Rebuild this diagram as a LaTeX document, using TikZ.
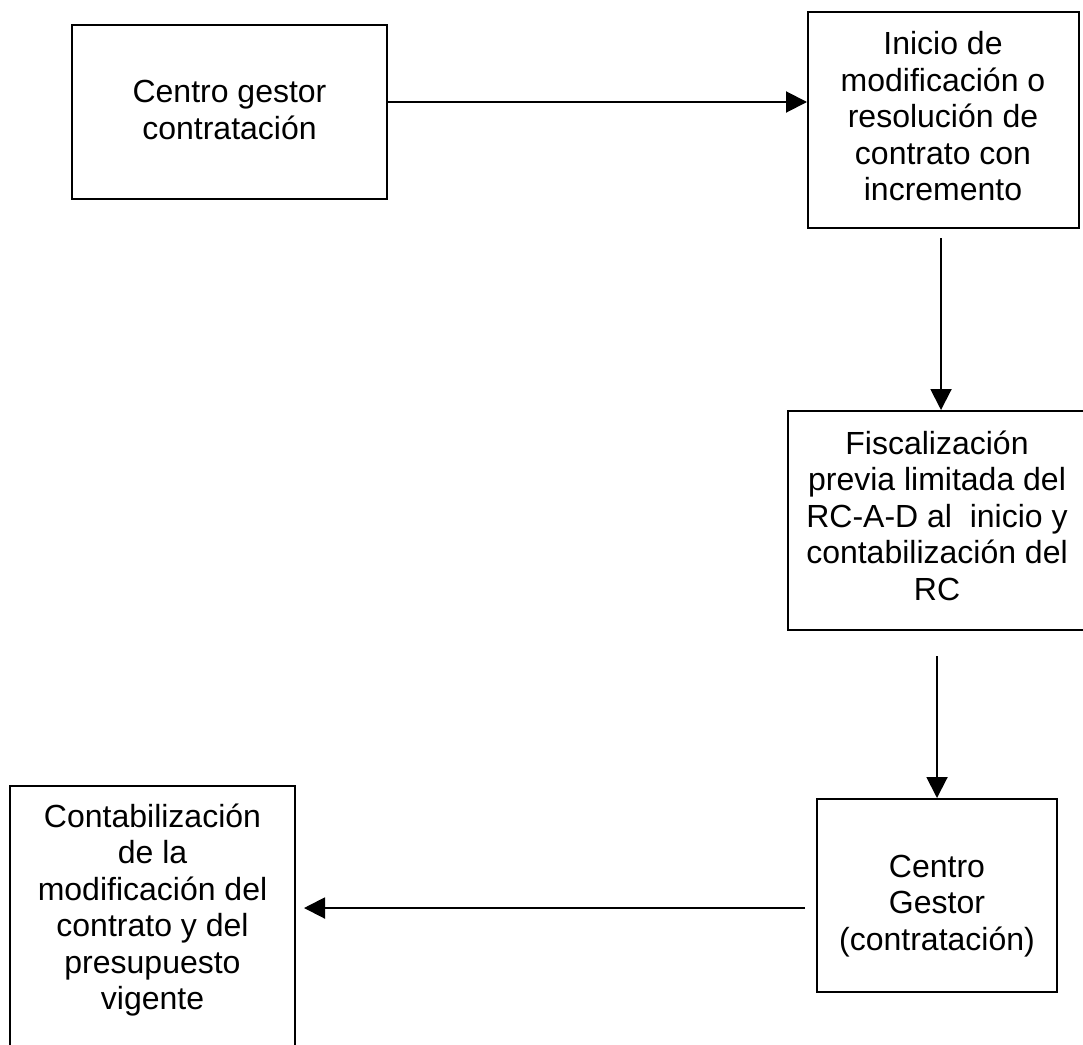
\documentclass[tikz,border=0pt]{standalone}
\usepackage{fontspec}
\setmainfont{Liberation Sans}
\usetikzlibrary{arrows.meta}
\begin{document}
\begin{tikzpicture}[x=1pt,y=1pt,
  box/.style={draw=black, line width=2pt, inner sep=0pt},
  txt/.style={align=center, inner sep=0pt, font=\fontsize{32}{36.5}\selectfont},
  arr/.style={line width=2pt, -{Triangle[length=21pt,width=21pt]}}]
\useasboundingbox (0,0) rectangle (1083,-1044);
\node[box, minimum width=315pt, minimum height=174pt] (b1) at (229.5,-112) {};
\node[box, minimum width=271pt, minimum height=216pt] (b2) at (943.5,-120) {};
\node[box, minimum width=298pt, minimum height=219pt] (b3) at (937,-520.5) {};
\node[box, minimum width=240pt, minimum height=193pt] (b4) at (937,-895.5) {};
\node[box, minimum width=285pt, minimum height=260pt] (b5) at (152.5,-916) {};
\node[txt] (t1) at (229.5,-110) {Centro gestor\\contratación};
\node[txt] (t2) at (943,-116.5) {Inicio de\\modificación o\\resolución de\\contrato con\\incremento};
\node[txt] (t3) at (937,-515.5) {Fiscalización\\previa limitada del\\RC-A-D al~ inicio y\\contabilización del\\RC};
\node[txt] (t4) at (937,-906) {Centro\\Gestor\\(contratación)};
\node[txt] (t5) at (152.5,-910) {Contabilización\\de la\\modificación del\\contrato y del\\presupuesto\\vigente};
\draw[arr] ([yshift=10pt]b1.east) -- ([yshift=18pt]b2.west);
\draw[arr] ([xshift=-2.5pt,yshift=-9pt]b2.south) -- ([xshift=4pt]b3.north);
\draw[arr] ([yshift=-25pt]b3.south) -- (b4.north);
\draw[arr] ([xshift=-11pt,yshift=-12.5pt]b4.west) -- ([xshift=8pt,yshift=8pt]b5.east);
\end{tikzpicture}
\end{document}
